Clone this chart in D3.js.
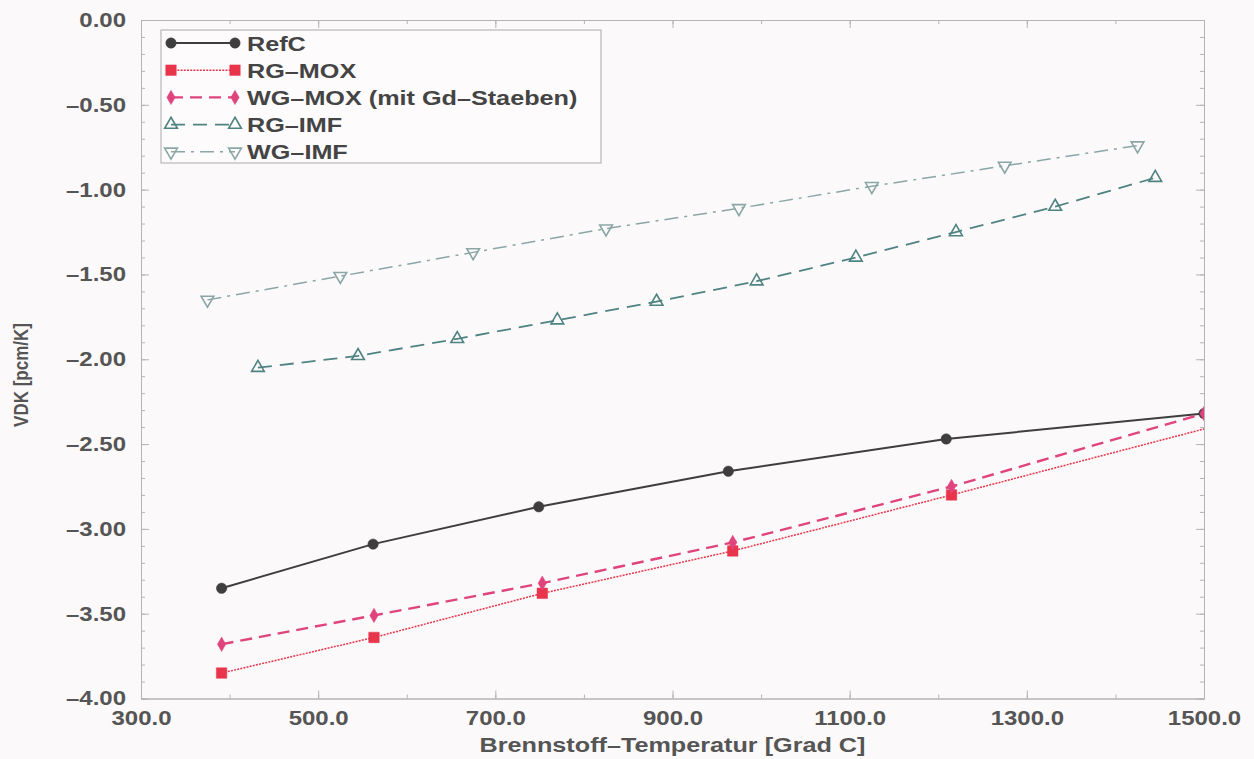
<!DOCTYPE html>
<html>
<head>
<meta charset="utf-8">
<script src="https://cdn.jsdelivr.net/npm/d3@7"></script>
<style>
  body { margin: 0; background: #fcf9fa; }
  svg { display: block; font-family: "Liberation Sans", Arial, sans-serif; font-weight: bold; }
  .axis path, .axis line { stroke: #b4b4b4; }
  .axis text { fill: #555; font-size: 20px; font-weight: bold; }
</style>
</head>
<body>
<div id="chart"></div>
<script>
// series
const refcTemp = [391, 562, 749, 963, 1209, 1500];
const refcVdk = [-3.35, -3.09, -2.87, -2.66, -2.47, -2.32];

const rgMoxTemp = [391, 563, 753, 968, 1215, 1530];
const rgMoxVdk = [-3.85, -3.64, -3.38, -3.13, -2.80, -2.37];

const wgMoxTemp = [391, 563, 753, 968, 1215, 1500];
const wgMoxVdk = [-3.68, -3.51, -3.32, -3.08, -2.75, -2.32];

const rgImfTemp = [432, 545, 657, 770, 882, 995, 1107, 1220, 1332, 1445];
const rgImfVdk = [-2.05, -1.98, -1.88, -1.77, -1.66, -1.54, -1.40, -1.25, -1.10, -0.93];

const wgImfTemp = [375, 525, 675, 825, 975, 1125, 1275, 1425];
const wgImfVdk = [-1.65, -1.51, -1.37, -1.23, -1.11, -0.98, -0.86, -0.74];

const seriesNames = ['RefC', 'RG\u2013MOX', 'WG\u2013MOX (mit Gd\u2013Staeben)', 'RG\u2013IMF', 'WG\u2013IMF'];

const xTicks = [300, 500, 700, 900, 1100, 1300, 1500];
const yTicks = [0, -0.5, -1, -1.5, -2, -2.5, -3, -3.5, -4];

const W = 1254, H = 759;
const margin = { left: 141, top: 20, right: 50, bottom: 60 };
const width = W - margin.left - margin.right;
const height = H - margin.top - margin.bottom - 0.5;
// the scanned original is stretched sideways, so text is too
const stretch = 1.2;

const zip = (xs, ys) => xs.map((x, i) => ({ x, y: ys[i] }));

const series = [
  { name: seriesNames[0], data: zip(refcTemp, refcVdk), color: '#3e3e3e', width: 2, dash: null,
    symbol: d3.symbolCircle, size: 85, fill: true, rotate: 0 },
  { name: seriesNames[1], data: zip(rgMoxTemp, rgMoxVdk), color: '#e8354c', width: 1.5, dash: '2,1.2',
    symbol: d3.symbolSquare, size: 110, fill: true, rotate: 0 },
  { name: seriesNames[2], data: zip(wgMoxTemp, wgMoxVdk), color: '#e0447c', width: 2.4, dash: '12,7',
    symbol: d3.symbolDiamond, size: 60, fill: true, rotate: 0 },
  { name: seriesNames[3], data: zip(rgImfTemp, rgImfVdk), color: '#4f8381', width: 1.8, dash: '14,8',
    symbol: d3.symbolTriangle, size: 70, fill: false, rotate: 0 },
  { name: seriesNames[4], data: zip(wgImfTemp, wgImfVdk), color: '#8aa6a5', width: 1.5, dash: '14,6,3,6',
    symbol: d3.symbolTriangle, size: 70, fill: false, rotate: 180 },
];

const svg = d3.select('#chart').append('svg')
  .attr('width', W)
  .attr('height', H);

const x = d3.scaleLinear().domain([300, 1500]).range([0, width]);
const y = d3.scaleLinear().domain([-4, 0]).range([height, 0]);

const g = svg.append('g')
  .attr('transform', `translate(${margin.left}, ${margin.top})`);

g.append('clipPath').attr('id', 'plot-clip')
  .append('rect').attr('width', width).attr('height', height);

// minor ticks on all four sides
const xMinor = d3.range(300, 1501, 100);
const yMinor = d3.range(-40, 1).map(v => v / 10);

g.append('g').attr('class', 'axis')
  .attr('transform', `translate(0, ${height})`)
  .call(d3.axisBottom(x).tickValues(xMinor).tickSize(-4).tickFormat(''));
g.append('g').attr('class', 'axis')
  .call(d3.axisTop(x).tickValues(xMinor).tickSize(-4).tickFormat(''));
g.append('g').attr('class', 'axis')
  .call(d3.axisLeft(y).tickValues(yMinor).tickSize(-4).tickFormat(''));
g.append('g').attr('class', 'axis')
  .attr('transform', `translate(${width}, 0)`)
  .call(d3.axisRight(y).tickValues(yMinor).tickSize(-4).tickFormat(''));

// major ticks with labels
g.append('g').attr('class', 'axis x-axis')
  .attr('transform', `translate(0, ${height})`)
  .call(d3.axisBottom(x).tickValues(xTicks).tickSizeInner(-8).tickSizeOuter(0).tickPadding(9)
    .tickFormat(d => d.toFixed(1)));
g.append('g').attr('class', 'axis y-axis')
  .call(d3.axisLeft(y).tickValues(yTicks).tickSizeInner(-8).tickSizeOuter(0).tickPadding(12.5)
    .tickFormat(d => d === 0 ? '0.00' : '\u2013' + Math.abs(d).toFixed(2)));
g.append('g').attr('class', 'axis')
  .call(d3.axisTop(x).tickValues(xTicks).tickSizeInner(-8).tickSizeOuter(0).tickFormat(''));
g.append('g').attr('class', 'axis')
  .attr('transform', `translate(${width}, 0)`)
  .call(d3.axisRight(y).tickValues(yTicks).tickSizeInner(-8).tickSizeOuter(0).tickFormat(''));

g.selectAll('.x-axis text').attr('dy', '0.9em').attr('transform', `scale(${stretch}, 1)`);
g.selectAll('.y-axis text').attr('transform', `scale(${stretch}, 1)`);

// axis titles
g.append('text')
  .attr('transform', `translate(${width / 2}, ${height + 53}) scale(${stretch}, 1)`)
  .attr('text-anchor', 'middle')
  .attr('fill', '#555')
  .style('font-size', '21px')
  .text('Brennstoff\u2013Temperatur [Grad C]');

g.append('text')
  .attr('transform', `translate(-113, 355) scale(${stretch}, 1) rotate(-90)`)
  .attr('text-anchor', 'middle')
  .attr('fill', '#555')
  .style('font-size', '17px')
  .text('VDK [pcm/K]');

// lines and markers
const line = d3.line().x(d => x(d.x)).y(d => y(d.y));
const plot = g.append('g').attr('clip-path', 'url(#plot-clip)');

series.forEach(s => {
  plot.append('path')
    .datum(s.data)
    .attr('d', line)
    .attr('fill', 'none')
    .attr('stroke', s.color)
    .attr('stroke-width', s.width)
    .attr('stroke-dasharray', s.dash);

  plot.selectAll(null)
    .data(s.data)
    .enter()
    .append('path')
    .attr('d', d3.symbol().type(s.symbol).size(s.size))
    .attr('transform', d => `translate(${x(d.x)}, ${y(d.y)}) rotate(${s.rotate})`)
    .attr('fill', s.fill ? s.color : 'none')
    .attr('stroke', s.color)
    .attr('stroke-width', s.fill ? 0.5 : 1.6);
});

// legend
const legend = svg.append('g').attr('transform', 'translate(161, 30)');
legend.append('rect')
  .attr('width', 440)
  .attr('height', 133)
  .attr('fill', '#fdfbfc')
  .attr('stroke', '#b8b8b8')
  .attr('stroke-width', 1.2);

series.forEach((s, i) => {
  const row = legend.append('g').attr('transform', `translate(0, ${13 + i * 27.2})`);
  row.append('line')
    .attr('x1', 10).attr('x2', 74)
    .attr('stroke', s.color)
    .attr('stroke-width', s.width)
    .attr('stroke-dasharray', s.dash);
  [10, 74].forEach(px => {
    row.append('path')
      .attr('d', d3.symbol().type(s.symbol).size(s.size))
      .attr('transform', `translate(${px}, 0) rotate(${s.rotate})`)
      .attr('fill', s.fill ? s.color : 'none')
      .attr('stroke', s.color)
      .attr('stroke-width', s.fill ? 0.5 : 1.6);
  });
  row.append('text')
    .attr('transform', `translate(86, 0) scale(${stretch}, 1)`)
    .attr('dy', '0.36em')
    .attr('fill', '#444')
    .style('font-size', '21px')
    .text(s.name);
});
</script>
</body>
</html>
